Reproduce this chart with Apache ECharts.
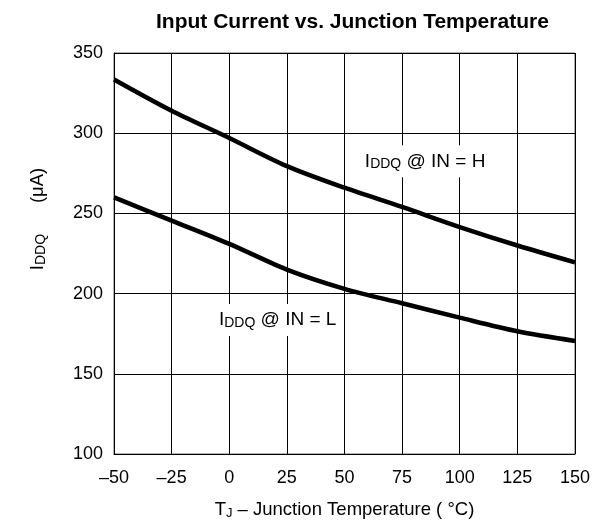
<!DOCTYPE html>
<html>
<head>
<meta charset="utf-8">
<script src="https://cdn.jsdelivr.net/npm/echarts@6/dist/echarts.min.js"></script>
<style>
html,body{margin:0;padding:0;background:#fff;}
#chart{width:593px;height:525px;}
</style>
</head>
<body>
<div id="chart"></div>
<script>
const temps = [-50, -25, 0, 25, 50, 75, 100, 125, 150];
const iddqH = [333.5, 314, 297, 279.5, 266, 254, 241.5, 230, 219.5];
const iddqL = [260, 245.5, 231, 215, 203, 194, 185, 176.5, 170.5];
const xTicks = [-50, -25, 0, 25, 50, 75, 100, 125, 150];
const yTicks = [100, 150, 200, 250, 300, 350];

const FONT = '"Liberation Sans", Arial, Helvetica, sans-serif';
const chart = echarts.init(document.getElementById('chart'), null, {renderer: 'canvas'});

const labelRich = {
  a: {fontFamily: FONT, fontSize: 19, color: '#000', lineHeight: 20, verticalAlign: 'middle'},
  b: {fontFamily: FONT, fontSize: 14, color: '#000', lineHeight: 11, verticalAlign: 'bottom'}
};

function pairs(xs, ys) { return xs.map((x, i) => [x, ys[i]]); }

const option = {
  animation: false,
  backgroundColor: '#fff',
  title: {
    text: 'Input Current vs. Junction Temperature',
    left: 151, top: 7,
    textStyle: {fontFamily: FONT, fontSize: 21, fontWeight: 'bold', color: '#000'}
  },
  grid: {left: 114, right: 14, top: 53, bottom: 68, show: true, borderColor: '#666', borderWidth: 1, containLabel: false},
  xAxis: {
    type: 'value', min: xTicks[0], max: xTicks[xTicks.length - 1], interval: 25,
    axisLine: {show: true, onZero: false, lineStyle: {color: '#000', width: 1}},
    axisTick: {show: false},
    splitLine: {show: true, lineStyle: {color: '#000', width: 1}},
    axisLabel: {
      color: '#000', fontFamily: FONT, fontSize: 18, margin: 15,
      formatter: v => String(v).replace('-', '\u2013')
    },
    name: '{a|T}{b|J}{a| \u2013 Junction Temperature ( °C)}',
    nameLocation: 'middle', nameGap: 46,
    nameTextStyle: {rich: {
      a: {fontFamily: FONT, fontSize: 18.5, color: '#000', lineHeight: 20, verticalAlign: 'middle'},
      b: {fontFamily: FONT, fontSize: 13, color: '#000', lineHeight: 10, verticalAlign: 'bottom'}
    }}
  },
  yAxis: {
    type: 'value', min: yTicks[0], max: yTicks[yTicks.length - 1], interval: 50,
    axisLine: {show: true, onZero: false, lineStyle: {color: '#000', width: 1}},
    axisTick: {show: false},
    splitLine: {show: true, lineStyle: {color: '#000', width: 1}},
    axisLabel: {color: '#000', fontFamily: FONT, fontSize: 18, margin: 11}
  },
  graphic: [{
    type: 'text', x: 38, y: 219, rotation: Math.PI / 2,
    style: {
      text: '{a|I}{b|DDQ}{a|      (μA)}',
      align: 'center', verticalAlign: 'middle',
      rich: {
        a: {fontFamily: FONT, fontSize: 18.5, fill: '#000', lineHeight: 20, verticalAlign: 'middle'},
        b: {fontFamily: FONT, fontSize: 14, fill: '#000', lineHeight: 11, verticalAlign: 'bottom'}
      }
    }
  }],
  series: [
    {
      name: 'IN = H', type: 'line', data: pairs(temps, iddqH), smooth: 0.3,
      symbol: 'none', lineStyle: {color: '#000', width: 4.5},
      markPoint: {
        symbol: 'rect', symbolSize: 0,
        data: [{coord: [85, 282.5]}],
        label: {
          show: true, position: 'inside',
          formatter: '{a|I}{b|DDQ}{a| @ IN = H}',
          backgroundColor: '#fff', padding: [6, 5, 6, 5],
          rich: labelRich
        }
      }
    },
    {
      name: 'IN = L', type: 'line', data: pairs(temps, iddqL), smooth: 0.3,
      symbol: 'none', lineStyle: {color: '#000', width: 4.5},
      markPoint: {
        symbol: 'rect', symbolSize: 0,
        data: [{coord: [21, 183.5]}],
        label: {
          show: true, position: 'inside',
          formatter: '{a|I}{b|DDQ}{a| @ IN = L}',
          backgroundColor: '#fff', padding: [6, 5, 6, 5],
          rich: labelRich
        }
      }
    }
  ]
};
chart.setOption(option);
</script>
</body>
</html>
